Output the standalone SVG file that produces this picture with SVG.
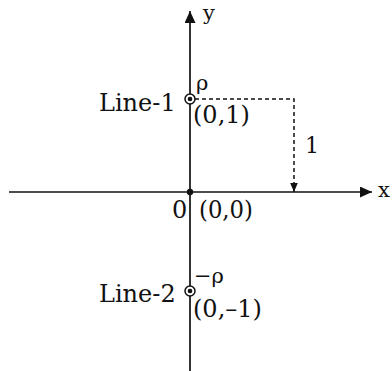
<svg xmlns="http://www.w3.org/2000/svg" width="392" height="371" viewBox="0 0 392 371">
  <style>
    .ax { stroke: #111111; stroke-width: 1.7; fill: none; }
    .dash { stroke: #111111; stroke-width: 1.5; stroke-dasharray: 4 3; fill: none; }
    .t { font-family: "DejaVu Serif", "Liberation Serif", serif; fill: #111111; }
    .big { font-size: 24px; }
    .mid { font-size: 21px; }
    .sm { font-size: 21px; }
    .ring { fill: #ffffff; stroke: #111111; stroke-width: 1.5; }
    .dot { fill: #111111; }
  </style>
  <defs>
    <marker id="ah" markerUnits="userSpaceOnUse" markerWidth="13" markerHeight="11" refX="12" refY="5.5" orient="auto">
      <path d="M0,0 L12,5.5 L0,11 Z" fill="#111111"/>
    </marker>
    <marker id="ahs" markerUnits="userSpaceOnUse" markerWidth="10" markerHeight="8" refX="9.5" refY="4" orient="auto">
      <path d="M0,0 L9.5,4 L0,8 Z" fill="#111111"/>
    </marker>
  </defs>
  <rect width="392" height="371" fill="#ffffff"/>

  <g id="connectors">
    <line class="ax" x1="9" y1="192" x2="372" y2="192" marker-end="url(#ah)"/>
    <line class="ax" x1="190" y1="371" x2="190" y2="11" marker-end="url(#ah)"/>
    <polyline class="dash" points="195,99 294,99 294,192" marker-end="url(#ahs)"/>
  </g>

  <g id="axis-labels">
    <text class="t mid" x="378" y="197">x</text>
    <text class="t mid" x="203" y="20">y</text>
    <text class="t big" x="305" y="153" style="font-size:22px">1</text>
  </g>

  <g id="origin">
    <circle class="dot" cx="190" cy="192" r="3.2"/>
    <text class="t big" x="172" y="218">0</text>
    <text class="t big" x="199" y="218" textLength="54" lengthAdjust="spacingAndGlyphs">(0,0)</text>
  </g>

  <g id="line-1">
    <circle class="ring" cx="190" cy="99" r="5"/>
    <circle class="dot" cx="190" cy="99" r="2.3"/>
    <text class="t big" x="99" y="111">Line-1</text>
    <text class="t sm" x="196" y="90">ρ</text>
    <text class="t big" x="193" y="123">(0,1)</text>
  </g>

  <g id="line-2">
    <circle class="ring" cx="190" cy="291" r="5"/>
    <circle class="dot" cx="190" cy="291" r="2.3"/>
    <text class="t big" x="99" y="302">Line-2</text>
    <text class="t sm" x="194" y="283">−ρ</text>
    <text class="t big" x="193" y="317">(0,–1)</text>
  </g>
</svg>
